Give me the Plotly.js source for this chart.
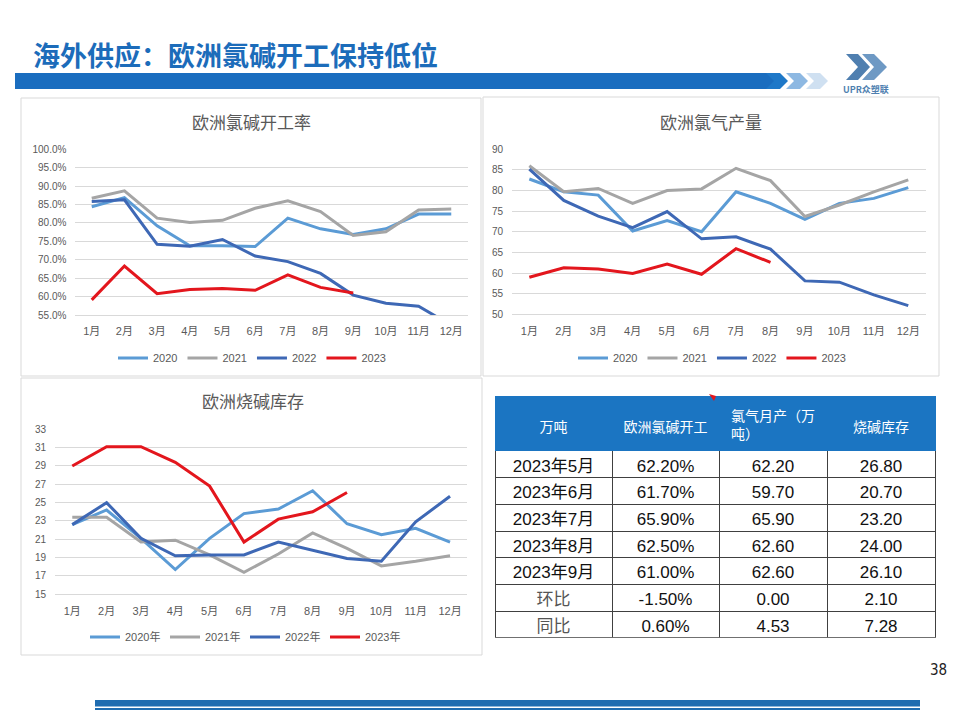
<!DOCTYPE html>
<html>
<head>
<meta charset="utf-8">
<script src="https://cdn.plot.ly/plotly-3.0.1.min.js"></script>
<style>html,body{margin:0;padding:0;background:#fff;}#chart{width:960px;height:720px;}</style>
</head>
<body>
<div id="chart"></div>
<script>
// ---------- data ----------
const months = ['1月','2月','3月','4月','5月','6月','7月','8月','9月','10月','11月','12月'];
const years = ['2020','2021','2022','2023'];
const yearsInv = ['2020年','2021年','2022年','2023年'];

const rate2020 = [84.4, 86.9, 79.2, 73.8, 73.8, 73.6, 81.3, 78.4, 76.9, 78.4, 82.4, 82.4];
const rate2021 = [86.7, 88.7, 81.3, 80.1, 80.7, 84.0, 86.0, 83.1, 76.6, 77.6, 83.5, 83.8];
const rate2022 = [85.8, 86.3, 74.2, 73.7, 75.5, 71.0, 69.5, 66.3, 60.4, 58.2, 57.4, 52.2];
const rate2023 = [59.1, 68.3, 60.8, 61.9, 62.2, 61.7, 65.9, 62.5, 61.0, null, null, null];

const chlorine2020 = [82.8, 79.7, 78.9, 70.2, 72.7, 70.0, 79.7, 76.9, 73.0, 76.9, 78.1, 80.7];
const chlorine2021 = [86.0, 79.7, 80.5, 76.9, 80.0, 80.4, 85.4, 82.4, 73.7, 76.5, 79.7, 82.6];
const chlorine2022 = [85.2, 77.6, 73.8, 71.0, 74.9, 68.3, 68.8, 65.8, 58.1, 57.8, 54.7, 52.1];
const chlorine2023 = [59.0, 61.3, 61.0, 59.9, 62.2, 59.7, 65.9, 62.6, null, null, null, null];

const inv2020 = [22.6, 24.2, 21.1, 17.7, 21.1, 23.8, 24.3, 26.3, 22.7, 21.5, 22.2, 20.7];
const inv2021 = [23.4, 23.4, 20.7, 20.9, 19.3, 17.4, 19.4, 21.7, 20.0, 18.1, 18.6, 19.2];
const inv2022 = [22.6, 25.0, 21.1, 19.2, 19.3, 19.3, 20.7, 19.8, 18.9, 18.6, 22.9, 25.7];
const inv2023 = [29.0, 31.1, 31.1, 29.4, 26.8, 20.7, 23.2, 24.0, 26.1, null, null, null];

const tableHeader = ['万吨', '欧洲氯碱开工', '氯气月产（万<br>吨）', '烧碱库存'];
const tableRowLabels = ['2023年5月','2023年6月','2023年7月','2023年8月','2023年9月','环比','同比'];
const tableRate = ['62.20%','61.70%','65.90%','62.50%','61.00%','-1.50%','0.60%'];
const tableChlorine = ['62.20','59.70','65.90','62.60','62.60','0.00','4.53'];
const tableInventory = ['26.80','20.70','23.20','24.00','26.10','2.10','7.28'];

// ---------- styling ----------
const W = 960, H = 720;
const px = x => x / W;
const py = y => 1 - y / H;
const colors = ['#5B9BD5', '#A5A5A5', '#3E68B5', '#E3161D'];
const FONT = 'Liberation Sans, Noto Sans CJK SC, sans-serif';
const CJK = 'Noto Sans CJK SC, sans-serif';
const GRAY = '#595959';

function series(ys, names, xa, ya, leg) {
  return ys.map((y, i) => ({
    type: 'scatter', mode: 'lines', x: months, y: y, name: names[i],
    xaxis: xa, yaxis: ya, legend: leg,
    line: {color: colors[i], width: 3}, connectgaps: false, hoverinfo: 'skip'
  }));
}

// single-line header labels get a small blank first line so they sit mid-height in the tall header
const isMulti = tableHeader.map(t => t.indexOf('<br>') >= 0);
const headerShown = tableHeader.map((t, i) => isMulti[i] ? t :
  '\u00a0<br><span style="font-size:14px">' + t + '</span>');
const headerSizes = isMulti.map(m => m ? 14 : 11);

const traces = [
  ...series([rate2020, rate2021, rate2022, rate2023], years, 'x', 'y', 'legend'),
  ...series([chlorine2020, chlorine2021, chlorine2022, chlorine2023], years, 'x2', 'y2', 'legend2'),
  ...series([inv2020, inv2021, inv2022, inv2023], yearsInv, 'x3', 'y3', 'legend3'),
  {
    type: 'table',
    domain: {x: [px(495), px(935)], y: [py(637.7), py(396.7)]},
    columnwidth: [117, 107, 108, 108],
    header: {
      values: headerShown,
      fill: {color: '#1B75C2'},
      line: {color: '#1B75C2', width: 1},
      font: {family: CJK, size: headerSizes, color: '#ffffff'},
      align: 'center',
      height: 53
    },
    cells: {
      values: [tableRowLabels, tableRate, tableChlorine, tableInventory],
      fill: {color: '#ffffff'},
      line: {color: '#404040', width: 1},
      font: {family: FONT, size: 17, color: [['#111','#111','#111','#111','#111','#555','#555'], '#111', '#111', '#111']},
      align: 'center',
      height: 26.7
    }
  }
];

function xAxis(l, r, anchor) {
  return {
    domain: [px(l), px(r)], anchor: anchor, type: 'category', range: [-0.5, 11.5],
    showgrid: false, showline: true, linecolor: '#D9D9D9', linewidth: 1, ticks: '',
    tickfont: {family: FONT, size: 11, color: GRAY}, ticklabelstandoff: 6, fixedrange: true
  };
}
function yAxis(b, t, anchor, range, dtick, extra) {
  return Object.assign({
    domain: [py(b), py(t)], anchor: anchor, range: range, dtick: dtick, tick0: range[0],
    showgrid: true, gridcolor: '#D9D9D9', gridwidth: 1, zeroline: false, showline: false, ticks: '',
    tickfont: {family: FONT, size: 10, color: GRAY}, ticklabelstandoff: 8, fixedrange: true
  }, extra || {});
}

function legendAt(cx, cy, ew) {
  const l = {
    orientation: 'h', x: px(cx), xanchor: 'center', y: py(cy), yanchor: 'middle',
    font: {family: FONT, size: 11, color: GRAY}, bgcolor: 'rgba(0,0,0,0)',
    itemwidth: 30, tracegroupgap: 0
  };
  if (ew) { l.entrywidth = ew; l.entrywidthmode = 'pixels'; }
  return l;
}

function rect(x0, y0, x1, y1, opts) {
  return Object.assign({type: 'rect', xref: 'paper', yref: 'paper',
    x0: px(x0), x1: px(x1), y0: py(y0), y1: py(y1), layer: 'below'}, opts);
}
function path(pts, fill) {
  const d = pts.map((p, i) => (i ? 'L' : 'M') + px(p[0]) + ',' + py(p[1])).join(' ') + ' Z';
  return {type: 'path', xref: 'paper', yref: 'paper', path: d, fillcolor: fill, line: {width: 0}, layer: 'above'};
}
function chevron(x, color) {
  return path([[x, 73], [x + 14, 73], [x + 22, 81], [x + 14, 89], [x, 89], [x + 8, 81]], color);
}

const panelLine = {line: {color: '#D9D9D9', width: 1}, fillcolor: 'rgba(0,0,0,0)'};
const shapes = [
  rect(21, 98, 481, 376, panelLine),
  rect(483, 97, 939, 376, panelLine),
  rect(21, 378, 482, 655, panelLine),
  // title bar
  rect(15, 73, 774, 89, {fillcolor: '#1A6DBF', line: {width: 0}}),
  chevron(766, '#1E78C8'),
  chevron(786, '#8DB8E2'),
  chevron(806, '#CFE0F1'),
  // logo mark
  path([[846, 54], [858, 54], [870, 67], [858, 80], [846, 80], [858, 67]], '#4F7FB0'),
  path([[862, 54], [874, 54], [887, 67], [874, 80], [862, 80], [874, 67]], '#6E99C4'),
  // bottom bars
  rect(95, 700, 920, 706.5, {fillcolor: '#1F6CB0', line: {width: 0}, layer: 'above'}),
  rect(95, 708, 920, 710, {fillcolor: '#1F6CB0', line: {width: 0}, layer: 'above'}),
  // small red mark on table
  path([[709, 394], [716, 396], [714, 401]], '#E3161D')
];

function ann(text, x, y, size, color, opts) {
  return Object.assign({text: text, xref: 'paper', yref: 'paper', x: px(x), y: py(y),
    xanchor: 'center', yanchor: 'middle', showarrow: false,
    font: {family: CJK, size: size, color: color}}, opts);
}

const annotations = [
  ann('<b>海外供应：欧洲氯碱开工保持低位</b>', 31, 55, 27, '#1C6CBA', {xanchor: 'left'}),
  ann('欧洲氯碱开工率', 251, 121, 17, GRAY),
  ann('欧洲氯气产量', 711, 121, 17, GRAY),
  ann('欧洲烧碱库存', 253, 400, 17, GRAY),
  ann('<b>UPR众塑联</b>', 866, 89, 9, '#4F7FB0'),
  ann('38', 938, 670, 15, '#222', {font: {family: 'Liberation Sans Narrow, DejaVu Sans Condensed, sans-serif', size: 15, color: '#222'}})
];

const layout = {
  width: W, height: H, margin: {l: 0, r: 0, t: 0, b: 0},
  paper_bgcolor: '#ffffff', plot_bgcolor: 'rgba(0,0,0,0)',
  font: {family: FONT, color: GRAY},
  xaxis: xAxis(75.4, 467.6, 'y'),
  yaxis: yAxis(315, 149.3, 'x', [55, 100], 5, {tickformat: '.1f', ticksuffix: '%'}),
  xaxis2: xAxis(512.1, 925.5, 'y2'),
  yaxis2: yAxis(314.3, 149.3, 'x2', [50, 90], 5),
  xaxis3: xAxis(55.1, 467.2, 'y3'),
  yaxis3: yAxis(594.3, 429.3, 'x3', [15, 33], 2),
  legend: legendAt(252, 358),
  legend2: legendAt(712, 358),
  legend3: legendAt(245, 637, 35),
  shapes: shapes,
  annotations: annotations,
  showlegend: true
};

Plotly.newPlot('chart', traces, layout, {displayModeBar: false, staticPlot: true});
</script>
</body>
</html>
